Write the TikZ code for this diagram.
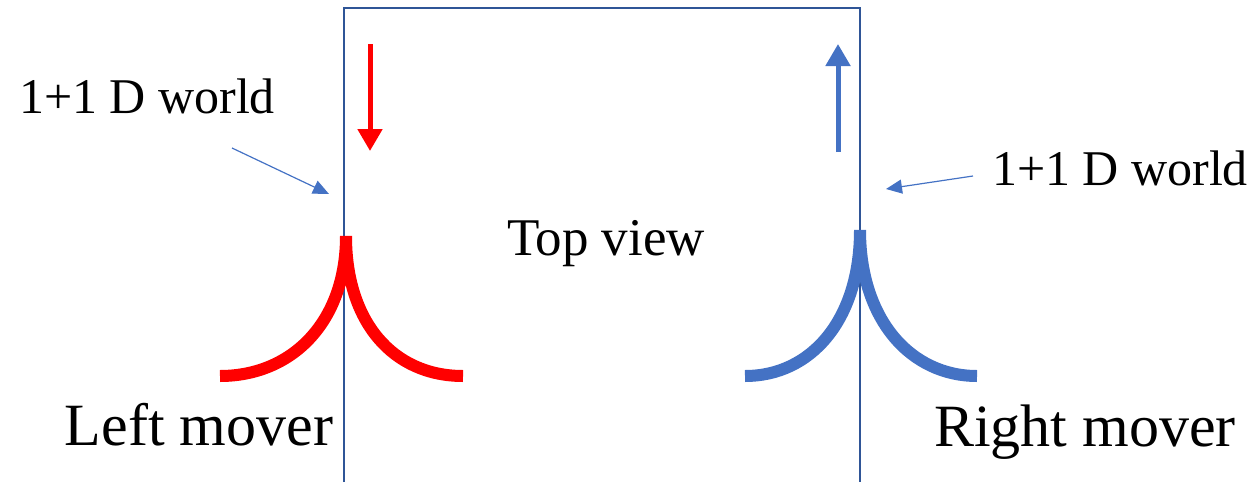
\documentclass[tikz,border=0pt]{standalone}
\usepackage{fontspec}
\setmainfont{Liberation Serif}
\usetikzlibrary{arrows.meta}
\definecolor{moverred}{HTML}{FF0000}
\definecolor{moverblue}{HTML}{4472C4}
\definecolor{wallblue}{HTML}{2F5597}
\tikzset{
  bigtext/.style={font=\fontsize{30}{36}\selectfont, anchor=base},
  midtext/.style={font=\fontsize{26.5}{32}\selectfont, anchor=base},
  worldtext/.style={font=\fontsize{25}{30}\selectfont, anchor=base},
  wall/.style={wallblue, line width=1pt},
  motion/.style={line width=2.5pt, -{Triangle[length=11pt, width=12pt]}},
  pointer/.style={moverblue, line width=0.6pt, -{Triangle[length=8pt, width=7pt]}},
  cusp/.style={line width=6pt}
}
\begin{document}
\begin{tikzpicture}[x=0.5pt, y=-0.5pt]
	\useasboundingbox (0,0) rectangle (1258,482);
	% the box seen from above
	\draw[wall] (344,482) -- (344,8) -- (860,8) -- (860,482);
	\node[midtext] (top) at (606,255) {Top view};
	% direction of motion
	\coordinate (redtail) at (370,44);
	\coordinate (redhead) at (370,151);
	\coordinate (bluetail) at (838,152);
	\coordinate (bluehead) at (838,44);
	\draw[motion, moverred] (redtail) -- (redhead);
	\draw[motion, moverblue] (bluetail) -- (bluehead);
	% labels of the walls
	\node[worldtext] (worldL) at (147,113) {1+1 D world};
	\node[worldtext] (worldR) at (1120,185) {1+1 D world};
	\coordinate (wallL) at (329,194);
	\coordinate (wallR) at (886,189);
	\draw[pointer] (232,148) coordinate (fromL) -- (wallL);
	\draw[pointer] (973,176) coordinate (fromR) -- (wallR);
	% the movers
	\coordinate (tipL) at (346,236);
	\coordinate (tipR) at (860,230);
	\draw[cusp, moverred] (220,376) .. controls (292,376) and (346,322) .. (tipL)
		.. controls (346,322) and (393,376) .. (463,376);
	\draw[cusp, moverblue] (745,376) .. controls (811,376) and (860,320) .. (tipR)
		.. controls (860,320) and (911,376) .. (977,376);
	\node[bigtext] (left) at (199,445) {Left mover};
	\node[bigtext] (right) at (1085,446) {Right mover};
\end{tikzpicture}
\end{document}
